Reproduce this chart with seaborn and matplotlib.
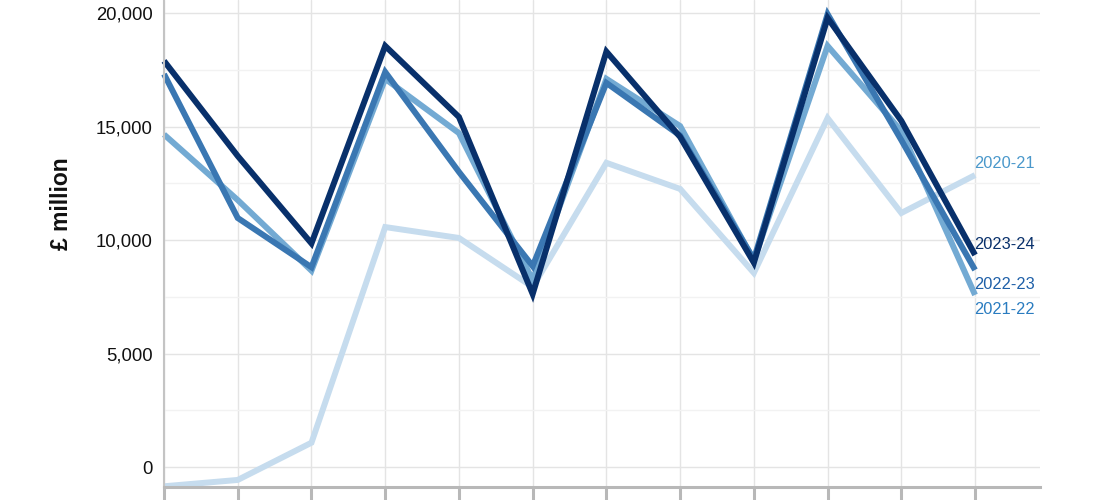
import matplotlib
matplotlib.use("Agg")
import matplotlib.pyplot as plt
import seaborn as sns
import pandas as pd
import numpy as np

months = ["Apr", "May", "Jun", "Jul", "Aug", "Sep", "Oct", "Nov", "Dec", "Jan", "Feb", "Mar"]
years = ["2020-21", "2021-22", "2022-23", "2023-24"]
v2020 = [-850, -570, 1070, 10570, 10090, 7930, 13400, 12250, 8550, 15370, 11190, 12860]
v2021 = [14650, 11760, 8650, 17100, 14710, 8240, 17100, 15020, 9100, 18550, 14800, 7580]
v2022 = [17310, 10970, 8800, 17400, 13000, 8850, 16920, 14600, 9150, 19950, 14400, 8680]
v2023 = [17890, 13700, 9850, 18550, 15420, 7620, 18300, 14540, 9000, 19780, 15250, 9340]

line_colors = ["#c6dcee", "#73aad3", "#3a77b2", "#08306b"]
label_colors = ["#4a98cb", "#2a7cc0", "#1f60a8", "#08306b"]
label_offsets = [12, -15, -15, 10]  # pixels, only for label dodging

df = pd.DataFrame({
    "month": months * 4,
    "idx": list(range(12)) * 4,
    "value": v2020 + v2021 + v2022 + v2023,
    "year": sum([[y] * 12 for y in years], []),
})

sns.set_theme(style="white")
plt.rcParams["font.family"] = ["Liberation Sans", "DejaVu Sans"]

fig = plt.figure(figsize=(11.08, 5.0), dpi=100)
ax = fig.add_axes([164 / 1108, 0.026, (1040 - 164) / 1108, 1 - 0.026])

sns.lineplot(data=df, x="idx", y="value", hue="year", hue_order=years,
             palette=line_colors, linewidth=4.3, legend=False, ax=ax,
             solid_joinstyle="miter", solid_capstyle="butt")
for ln in ax.lines:
    ln.set_clip_on(False)

ax.set_xlim(0, 11 + (1040 - 975) / 73.8)
ax.set_ylim(-881, 20573)
ax.set_xticks(range(12))
ax.set_xticklabels([])
ax.set_yticks([0, 5000, 10000, 15000, 20000])
ax.set_yticks([2500, 7500, 12500, 17500], minor=True)
ax.set_yticklabels(["0", "5,000", "10,000", "15,000", "20,000"], fontsize=13.3, color="#111111")
ax.grid(True, which="major", color="#e4e4e4", linewidth=1.0)
ax.grid(True, which="minor", axis="y", color="#f2f2f2", linewidth=1.0)
ax.set_axisbelow(True)

for s in ["top", "right"]:
    ax.spines[s].set_visible(False)
ax.spines["left"].set_color("#c4c4c4")
ax.spines["left"].set_linewidth(1.5)
ax.spines["bottom"].set_color("#b8b8b8")
ax.spines["bottom"].set_linewidth(2.2)
ax.tick_params(axis="x", which="major", length=10, width=2.2, color="#b8b8b8", bottom=True, direction="out")
ax.tick_params(axis="y", which="both", length=0, pad=8)

ax.set_xlabel("")
ax.set_ylabel("")
fig.text(61 / 1108, 1 - 204 / 500, "£ million", rotation=90, ha="center", va="center",
         fontsize=16.5, fontweight="bold", color="#111111")

vals = [v2020, v2021, v2022, v2023]
for yr, v, c, off in zip(years, vals, label_colors, label_offsets):
    ax.annotate(yr, xy=(11, v[-1]), xytext=(-1, off), textcoords="offset pixels",
                ha="left", va="center", fontsize=11.8, color=c, annotation_clip=False)

fig.savefig("out.png", dpi=100)
